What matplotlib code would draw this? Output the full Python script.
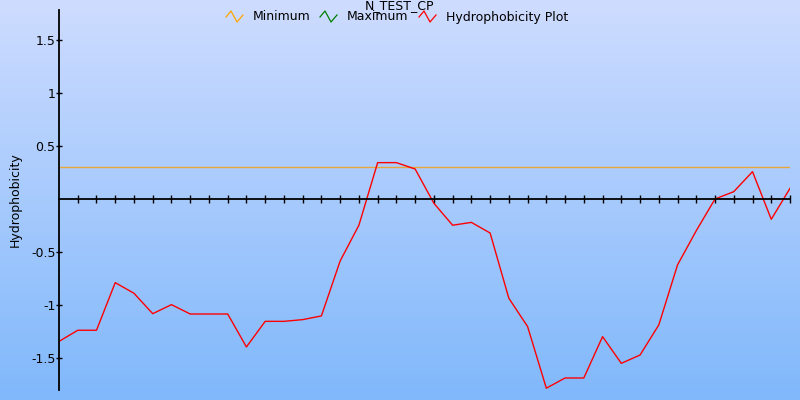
import numpy as np
import matplotlib
matplotlib.use("Agg")
from matplotlib import pyplot as plt
from matplotlib.colors import LinearSegmentedColormap
from matplotlib.lines import Line2D

# hydrophobicity per window position
hydro = [-1.34, -1.235, -1.235, -0.787, -0.887, -1.079, -0.994, -1.082, -1.082, -1.082,
         -1.392, -1.151, -1.151, -1.135, -1.10, -0.583, -0.247, 0.342, 0.342, 0.282,
         -0.04, -0.247, -0.22, -0.32, -0.934, -1.20, -1.78, -1.684, -1.684, -1.295,
         -1.546, -1.468, -1.185, -0.62, -0.298, 0.0, 0.069, 0.257, -0.191, 0.10]
minimum = 0.3
ytick_vals = [1.5, 1, 0.5, -0.5, -1, -1.5]
ytick_text = ['1.5', '1', '0.5', '-0.5', '-1', '-1.5']
title = 'N_TEST_CP'
legend_names = ['Minimum', 'Maximum', 'Hydrophobicity Plot']
legend_colors = ['orange', 'green', 'red']

W, H = 800, 400
fig = plt.figure(figsize=(8, 4), dpi=100)

# gradient background
bg = fig.add_axes([0, 0, 1, 1])
cmap = LinearSegmentedColormap.from_list('bg', ['#cedcff', '#80b8fb'])
bg.imshow(np.linspace(0, 1, 256).reshape(-1, 1), aspect='auto', cmap=cmap,
          extent=[0, 1, 0, 1])
bg.set_xlim(0, 1)
bg.set_ylim(0, 1)
bg.axis('off')

ax = fig.add_axes([59 / W, 10 / H, 731 / W, 380 / H])
ax.patch.set_alpha(0)
x = np.arange(len(hydro))
ax.set_xlim(0, len(hydro) - 1)
ax.set_ylim(-1.797, 1.778)

ax.axhline(minimum, color='#e8a53a', lw=1)
ax.plot(x, hydro, color='red', lw=1)

for s in ['top', 'right']:
    ax.spines[s].set_visible(False)
ax.spines['bottom'].set_position(('data', 0))
ax.spines['left'].set_position(('data', 0))
ax.spines['bottom'].set_linewidth(1.3)
ax.spines['left'].set_linewidth(1.3)
ax.set_xticks(x[1:])
ax.set_xticklabels([])
ax.tick_params(axis='x', direction='inout', length=6, width=1)
ax.set_yticks(ytick_vals)
ax.set_yticklabels(ytick_text, fontsize=9)
ax.tick_params(axis='y', direction='inout', length=5, width=1, pad=0)

fig.text(15 / W, 0.5, 'Hydrophobicity', rotation=90, fontsize=9,
         ha='center', va='center')
fig.text(0.5, 1.0 - 9 / H, title, fontsize=9, ha='center', va='baseline')

# legend row, drawn by hand in figure pixels
icon_x = [226, 320, 419]
text_x = [253, 347, 446]
ly = H - 17
zx = np.array([0, 5, 11, 17])
zy = np.array([0, 6, -5, 2])
for ix, tx, name, c in zip(icon_x, text_x, legend_names, legend_colors):
    fig.add_artist(Line2D((ix + zx) / W, (ly + zy) / H, color=c, lw=0.9,
                          transform=fig.transFigure))
    fig.text(tx / W, ly / H, name, fontsize=9, ha='left', va='center')

fig.savefig('out.png', dpi=100)
